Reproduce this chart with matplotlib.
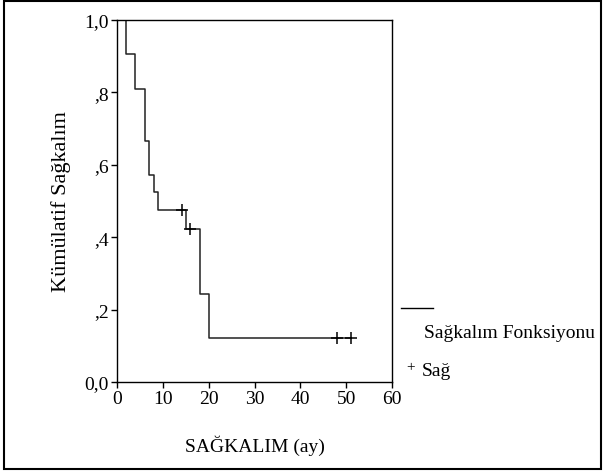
import matplotlib
matplotlib.use("Agg")
import matplotlib.pyplot as plt
from matplotlib.patches import Rectangle
from matplotlib.lines import Line2D

# Kaplan-Meier data
event_times = [0, 2, 4, 6, 7, 8, 9, 15, 18, 20]
survival = [1.0, 0.905, 0.810, 0.667, 0.571, 0.524, 0.476, 0.423, 0.242, 0.121]
censor_times = [14.2, 16.0, 48.0, 51.0]
censor_surv = [0.476, 0.423, 0.121, 0.121]
end_time = 51.0

xticks = [0, 10, 20, 30, 40, 50, 60]
yticks = [0.0, 0.2, 0.4, 0.6, 0.8, 1.0]
ytick_labels = ["0,0", ",2", ",4", ",6", ",8", "1,0"]

plt.rcParams['font.family'] = ['Liberation Serif', 'DejaVu Serif']

fig = plt.figure(figsize=(6.04, 4.77), dpi=100)
W, H = 604, 477
ax = fig.add_axes([117 / W, 1 - 383 / H, 275 / W, 362 / H])

xs = event_times + [end_time]
ys = survival + [survival[-1]]
ax.step(xs, ys, where='post', color='#222222', lw=1.1)
ax.plot(censor_times, censor_surv, linestyle='none', marker='+', color='black',
        markersize=8, mew=1.1)

ax.set_xlim(0, 60)
ax.set_ylim(0, 1.0)
ax.set_xticks(xticks)
ax.set_xticklabels([str(t) for t in xticks])
ax.set_yticks(yticks)
ax.set_yticklabels(ytick_labels)
ax.tick_params(axis='both', labelsize=14, direction='out', length=4, width=1, pad=2)
for s in ax.spines.values():
    s.set_linewidth(1.0)

ax.set_xlabel("SAĞKALIM (ay)", fontsize=14)
ax.xaxis.label.set_va('center')
ax.xaxis.set_label_coords(0.5, (383 - 446) / 362)
ax.set_ylabel("Kümülatif Sağkalım", fontsize=16)
ax.yaxis.label.set_va('center')
ax.yaxis.set_label_coords((61 - 117) / 275, 0.5)

# Legend drawn manually (line above its text, marker row below)
fig.add_artist(Line2D([401 / W, 433 / W], [1 - 309 / H, 1 - 309 / H], color='black', lw=1.0))
fig.text(424 / W, 1 - 334 / H, "Sağkalım Fonksiyonu", fontsize=14, va='center', ha='left')
fig.text(411 / W, 1 - 368 / H, "+", fontsize=11, va='center', ha='center')
fig.text(422 / W, 1 - 372 / H, "Sağ", fontsize=14, va='center', ha='left')

# Outer frame
fig.add_artist(Rectangle((4 / W, 1 - 470 / H), 597 / W, 468 / H, transform=fig.transFigure,
                         fill=False, edgecolor='black', lw=1.5))

fig.savefig("out.png", dpi=100)
